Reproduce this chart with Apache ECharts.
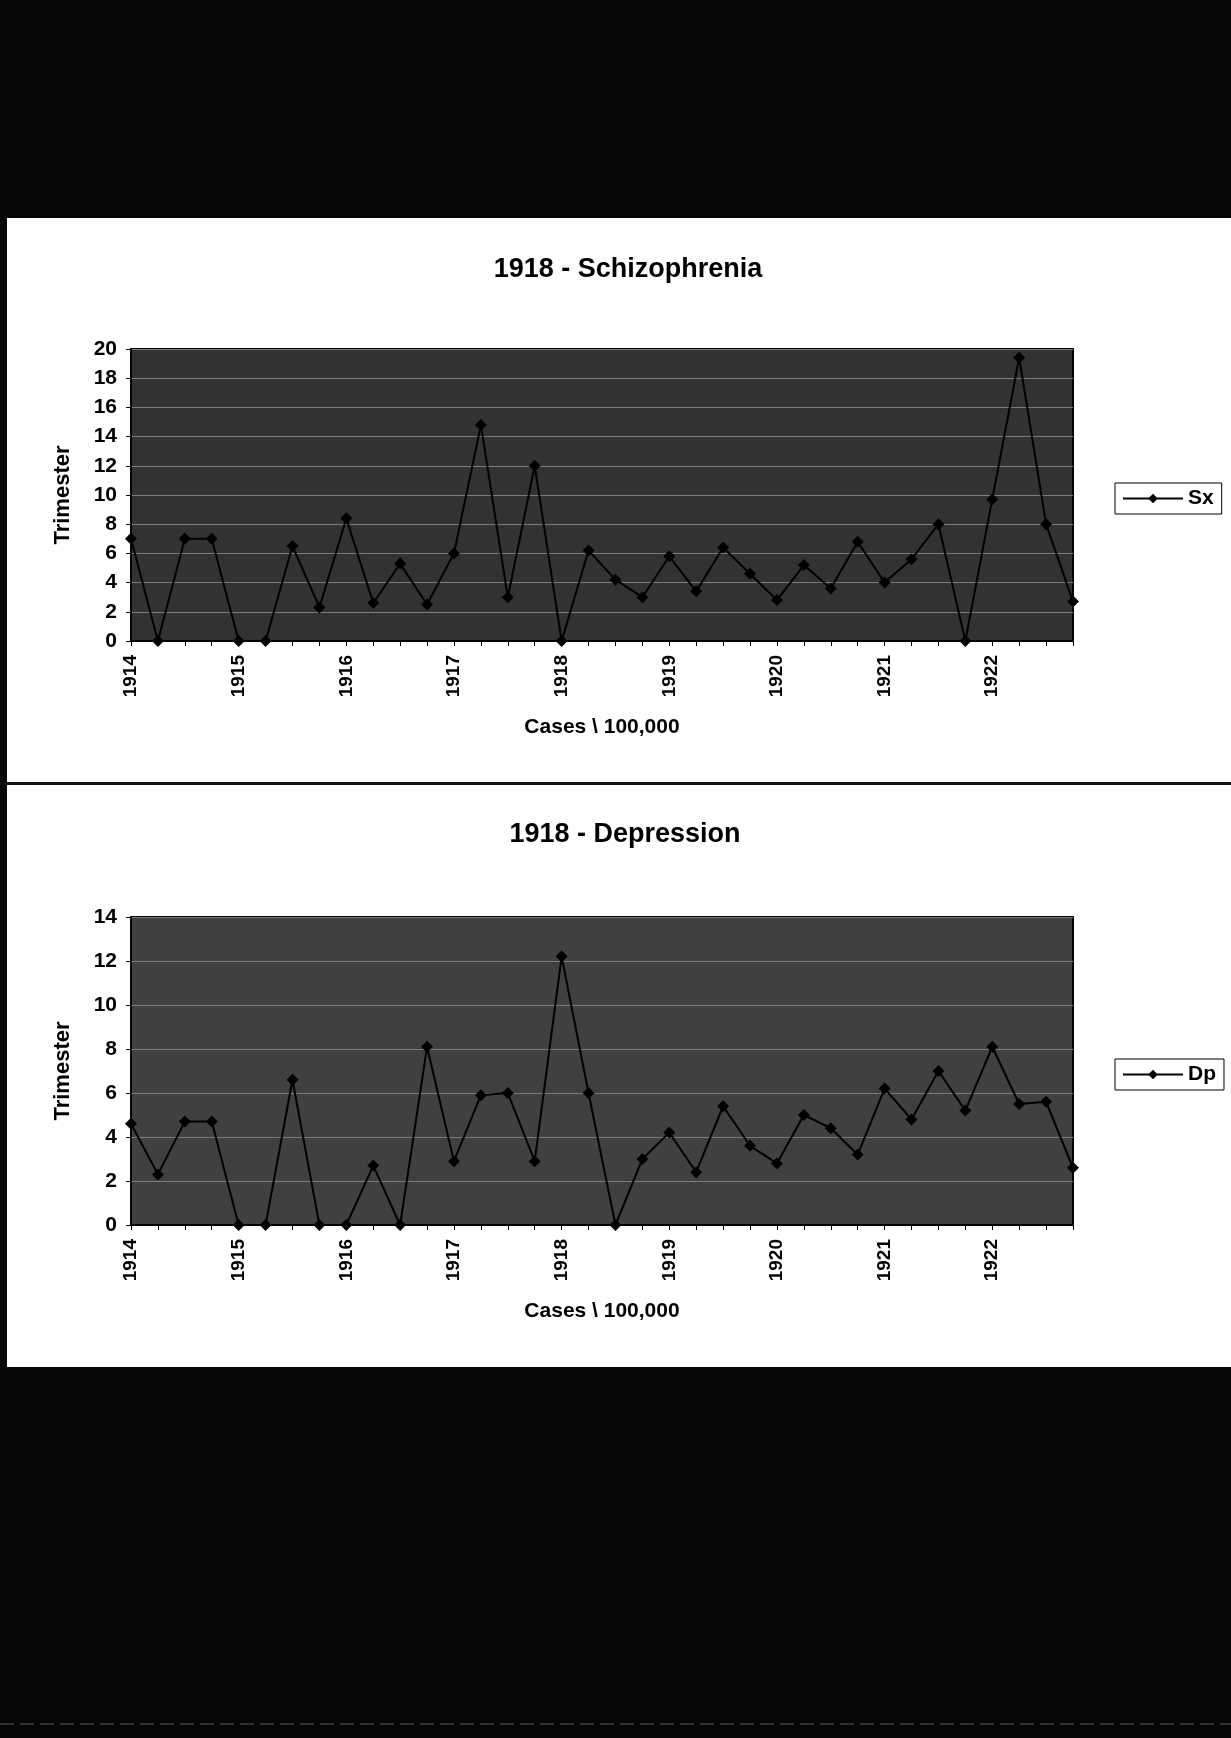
<!DOCTYPE html>
<html>
<head>
<meta charset="utf-8">
<script src="https://cdn.jsdelivr.net/npm/echarts@6/dist/echarts.min.js"></script>
<style>
  html, body { margin: 0; padding: 0; background: #ffffff; }
  #chart { width: 1231px; height: 1738px; }
</style>
</head>
<body>
<div id="chart"></div>
<script>
// Quarterly observations, 1914 Q1 through 1922 Q4
const quarters = [
  '1914-I','1914-II','1914-III','1914-IV',
  '1915-I','1915-II','1915-III','1915-IV',
  '1916-I','1916-II','1916-III','1916-IV',
  '1917-I','1917-II','1917-III','1917-IV',
  '1918-I','1918-II','1918-III','1918-IV',
  '1919-I','1919-II','1919-III','1919-IV',
  '1920-I','1920-II','1920-III','1920-IV',
  '1921-I','1921-II','1921-III','1921-IV',
  '1922-I','1922-II','1922-III','1922-IV'
];
const yearTicks = ['1914','1915','1916','1917','1918','1919','1920','1921','1922'];

// Schizophrenia (Sx) cases per 100,000
const sxValues = [
  7.0, 0, 7.0, 7.0, 0, 0, 6.5, 2.3, 8.4, 2.6, 5.3, 2.5,
  6.0, 14.8, 3.0, 12.0, 0, 6.2, 4.2, 3.0, 5.8, 3.4, 6.4, 4.6,
  2.8, 5.2, 3.6, 6.8, 4.0, 5.6, 8.0, 0, 9.7, 19.4, 8.0, 2.7
];
// Depression (Dp) cases per 100,000
const dpValues = [
  4.6, 2.3, 4.7, 4.7, 0, 0, 6.6, 0, 0, 2.7, 0, 8.1,
  2.9, 5.9, 6.0, 2.9, 12.2, 6.0, 0, 3.0, 4.2, 2.4, 5.4, 3.6,
  2.8, 5.0, 4.4, 3.2, 6.2, 4.8, 7.0, 5.2, 8.1, 5.5, 5.6, 2.6
];

const FONT = '"Liberation Sans", Arial, Helvetica, sans-serif';

function xAxisFor(gridIndex) {
  return {
    type: 'category',
    gridIndex: gridIndex,
    data: quarters,
    boundaryGap: false,
    name: 'Cases \\ 100,000',
    nameLocation: 'middle',
    nameGap: 76,
    nameTextStyle: { fontFamily: FONT, fontWeight: 'bold', fontSize: 21, color: '#000' },
    axisLine: { lineStyle: { color: '#000', width: 2 } },
    axisTick: { show: true, interval: 0, length: 5, lineStyle: { color: '#000', width: 1 } },
    axisLabel: {
      interval: 0,
      rotate: 90,
      margin: 14,
      fontFamily: FONT, fontWeight: 'bold', fontSize: 19, color: '#000',
      formatter: function (v, i) { return i % 4 === 0 ? yearTicks[i / 4] : ''; }
    },
    splitLine: { show: false }
  };
}

function yAxisFor(gridIndex, max) {
  return {
    type: 'value',
    gridIndex: gridIndex,
    min: 0, max: max, interval: 2,
    name: 'Trimester',
    nameLocation: 'middle',
    nameRotate: 90,
    nameGap: 57,
    nameTextStyle: { fontFamily: FONT, fontWeight: 'bold', fontSize: 22, color: '#000' },
    axisLine: { show: true, lineStyle: { color: '#000', width: 2 } },
    axisTick: { show: true, length: 5, lineStyle: { color: '#000', width: 1 } },
    axisLabel: { margin: 14, fontFamily: FONT, fontWeight: 'bold', fontSize: 21, color: '#000' },
    splitLine: { show: true, lineStyle: { color: '#7c7c7c', width: 1 } }
  };
}

function lineSeries(name, values, idx) {
  return {
    name: name,
    type: 'line',
    xAxisIndex: idx, yAxisIndex: idx,
    data: values,
    symbol: 'diamond',
    symbolSize: 12,
    showAllSymbol: true,
    lineStyle: { color: '#000', width: 2 },
    itemStyle: { color: '#000' },
    z: 5
  };
}

function legendFor(name, top) {
  return {
    data: [name],
    left: 1115, top: top,
    orient: 'vertical',
    backgroundColor: '#fff',
    borderColor: '#000', borderWidth: 1,
    padding: [5, 8, 5, 7],
    itemWidth: 60, itemHeight: 12,
    textStyle: { fontFamily: FONT, fontWeight: 'bold', fontSize: 21, color: '#000' }
  };
}

const chart = echarts.init(document.getElementById('chart'), null, { renderer: 'canvas' });

chart.setOption({
  animation: false,
  backgroundColor: '#ffffff',
  title: [
    { text: '1918 - Schizophrenia', left: 623, top: 251, textAlign: 'center',
      textStyle: { fontFamily: FONT, fontWeight: 'bold', fontSize: 27, color: '#000' } },
    { text: '1918 - Depression', left: 620, top: 816, textAlign: 'center',
      textStyle: { fontFamily: FONT, fontWeight: 'bold', fontSize: 27, color: '#000' } }
  ],
  legend: [legendFor('Sx', 483), legendFor('Dp', 1059)],
  grid: [
    { left: 131, width: 942, top: 349, height: 292, show: true,
      backgroundColor: '#323232', borderColor: '#000', borderWidth: 2 },
    { left: 131, width: 942, top: 917, height: 308, show: true,
      backgroundColor: '#404040', borderColor: '#000', borderWidth: 2 }
  ],
  xAxis: [xAxisFor(0), xAxisFor(1)],
  yAxis: [yAxisFor(0, 20), yAxisFor(1, 14)],
  series: [lineSeries('Sx', sxValues, 0), lineSeries('Dp', dpValues, 1)],
  graphic: [
    // dark bands framing the page
    { type: 'rect', shape: { x: 0, y: 0, width: 1231, height: 218 }, style: { fill: '#060606' }, silent: true },
    { type: 'rect', shape: { x: 0, y: 1367, width: 1231, height: 371 }, style: { fill: '#060606' }, silent: true },
    { type: 'rect', shape: { x: 0, y: 218, width: 7, height: 1150 }, style: { fill: '#080808' }, silent: true },
    // rule between the two panels
    { type: 'rect', shape: { x: 0, y: 782, width: 1231, height: 3 }, style: { fill: '#111' }, silent: true },
    // faint rule near the bottom edge
    { type: 'line', shape: { x1: 0, y1: 1724, x2: 1231, y2: 1724 },
      style: { stroke: '#5a5a5a', lineWidth: 1, lineDash: [14, 6] }, silent: true }
  ]
});
</script>
</body>
</html>
